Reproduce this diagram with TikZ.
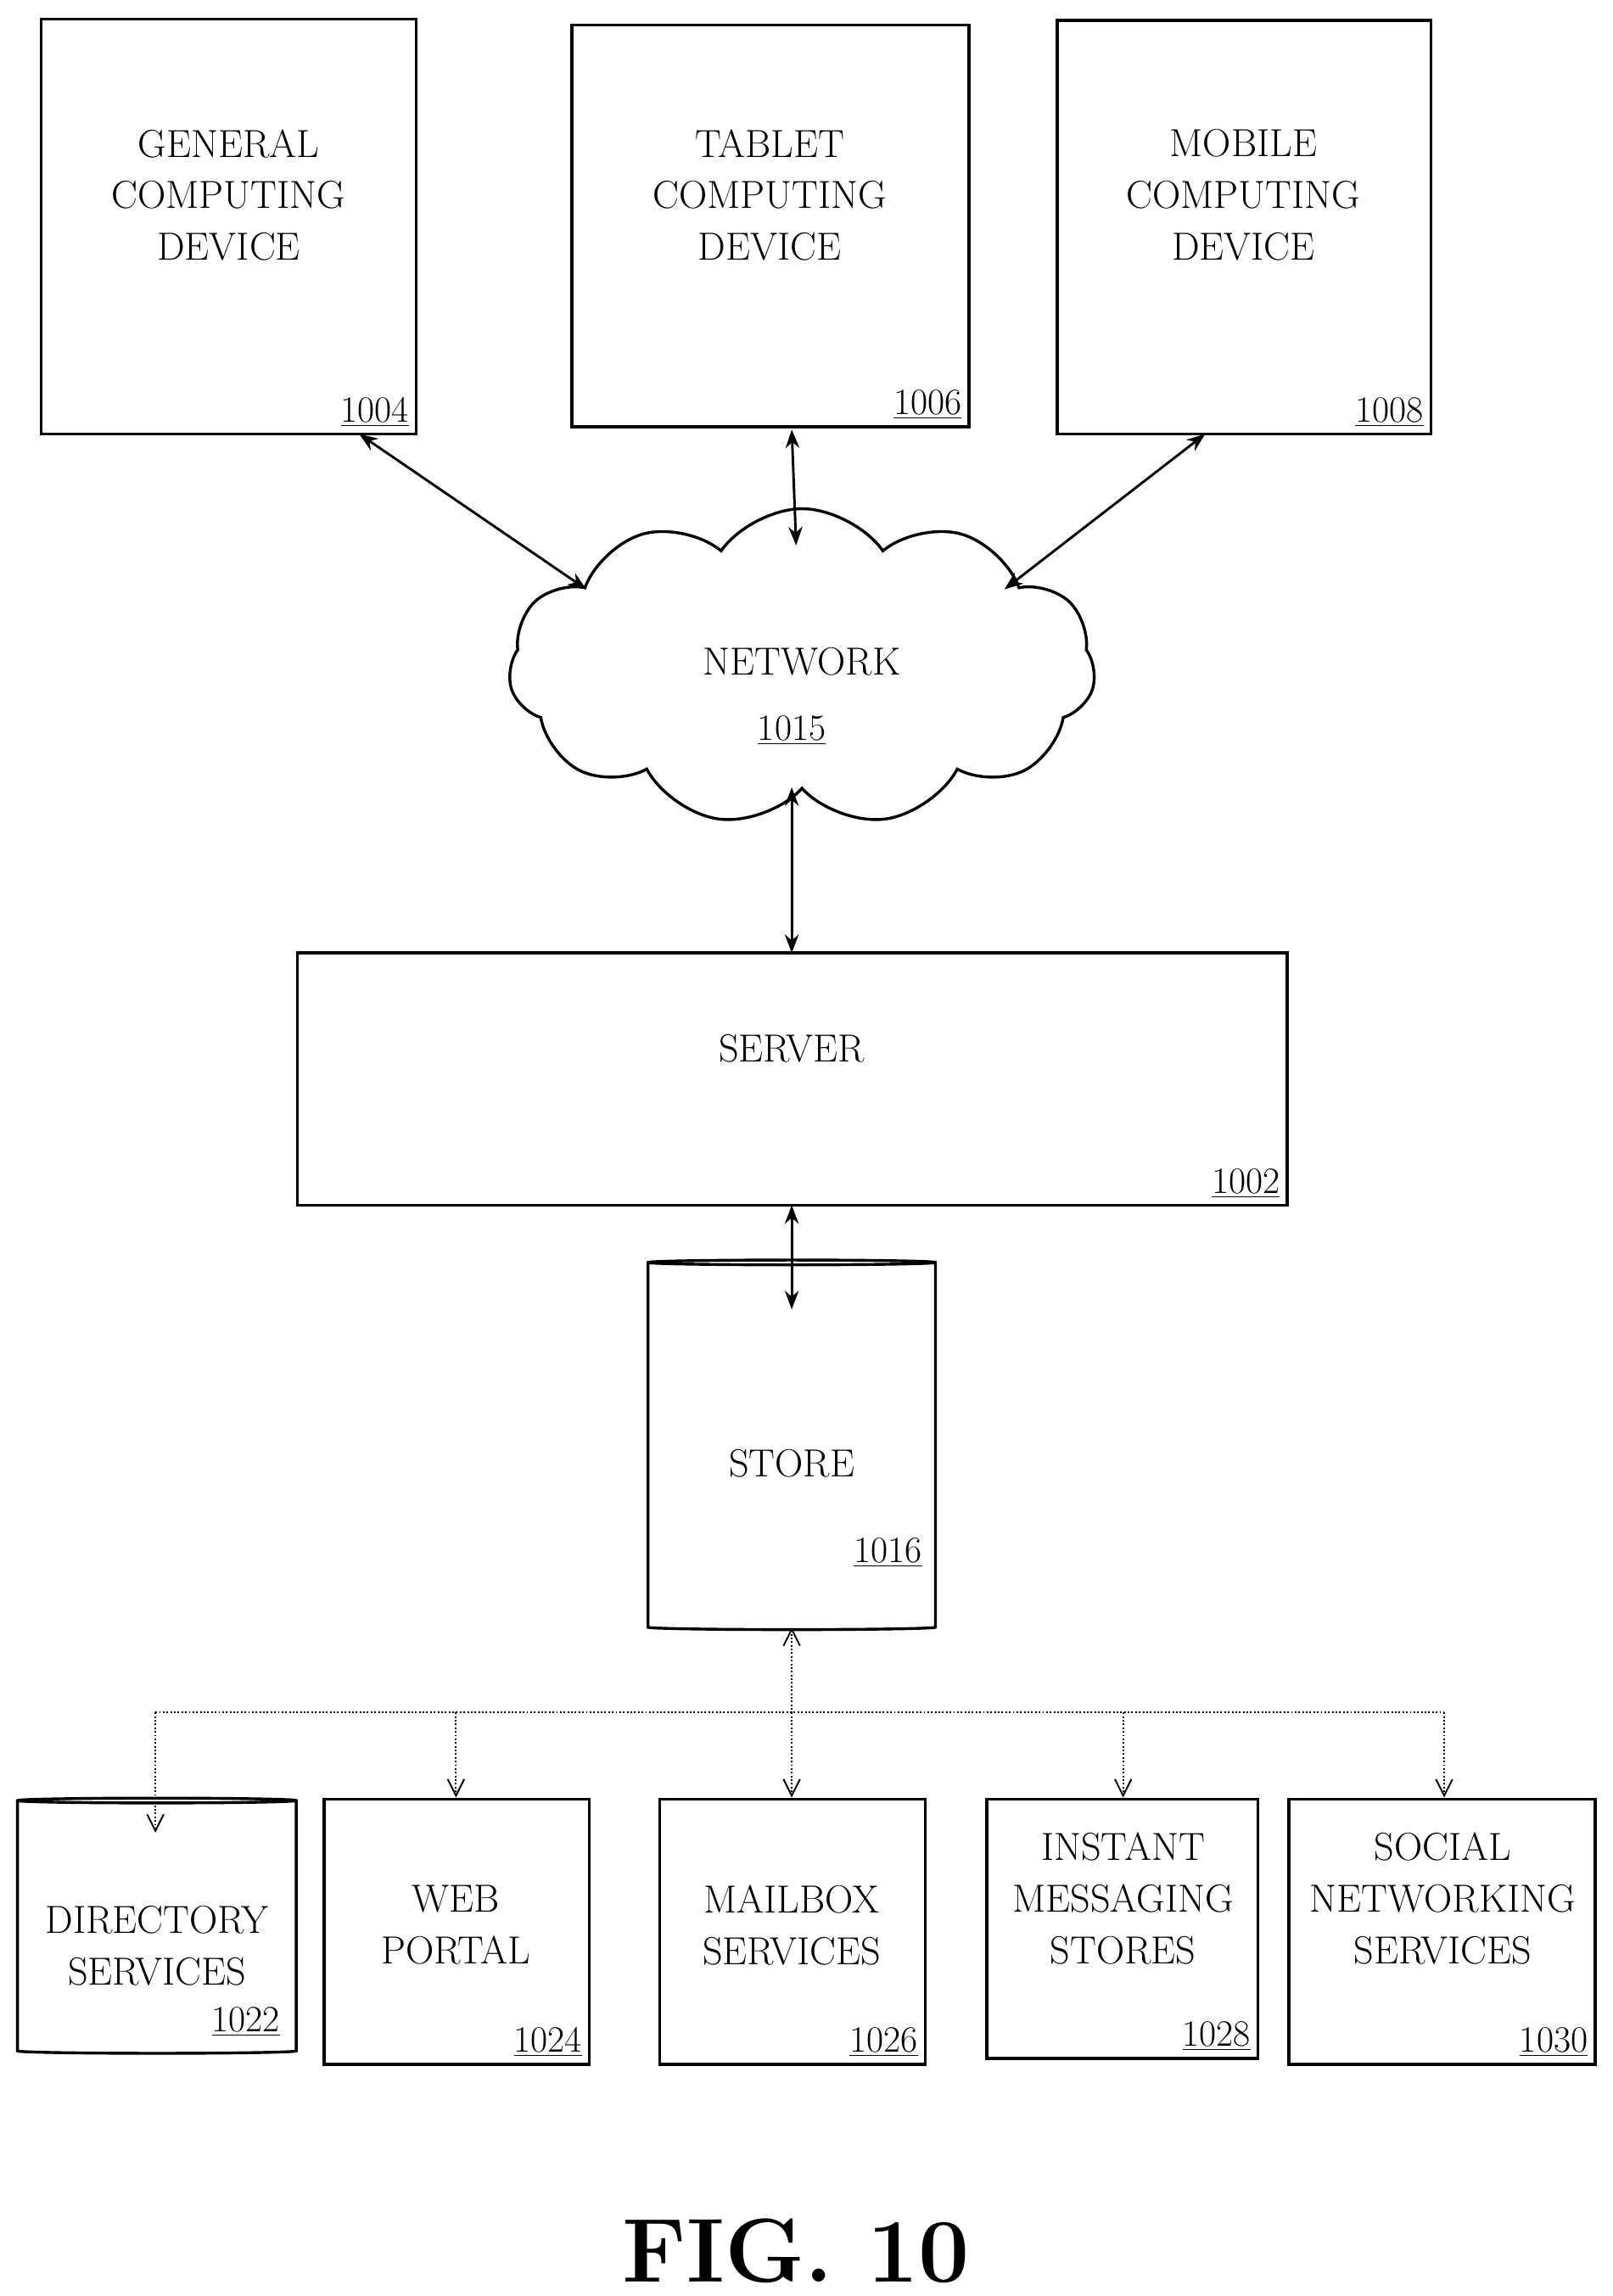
\documentclass[tikz,border=0pt]{standalone}
\usepackage{tikz}
\usetikzlibrary{shapes.geometric,shapes.symbols,arrows.meta}

\tikzset{
  box/.style={draw, line width=1.4pt, align=center, font=\fontsize{19}{25}\selectfont},
  ref/.style={font=\fontsize{18}{20}\selectfont, anchor=south east, inner sep=2pt},
  link/.style={line width=1.2pt, {Stealth[length=9pt]}-{Stealth[length=9pt]}},
  bus/.style={densely dotted, line width=0.8pt},
  tap/.style={bus, -{Straight Barb[open, length=8pt, width=8pt]}},
}

\begin{document}
\begin{tikzpicture}[x=0.025cm, y=-0.025cm]
	\useasboundingbox (0,0) rectangle (1100,1566);

	%% CLIENT DEVICES
	\draw[box] (28,13) rectangle (284,296);
	\node[box, draw=none](general) at (156,133){GENERAL\\COMPUTING\\DEVICE};
	\node[ref] at (282,294){\underline{1004}};
	\draw[box] (390,17) rectangle (661,291);
	\node[box, draw=none](tablet) at (525,133){TABLET\\COMPUTING\\DEVICE};
	\node[ref] at (659,289){\underline{1006}};
	\draw[box] (721,14) rectangle (976,296);
	\node[box, draw=none](mobile) at (848,133){MOBILE\\COMPUTING\\DEVICE};
	\node[ref] at (974,294){\underline{1008}};
	\coordinate (general_s) at (245,296);
	\coordinate (tablet_s) at (540,293);
	\coordinate (mobile_s) at (822,296);

	%% NETWORK
	\node[cloud, draw, line width=1.4pt, cloud puffs=11, cloud puff arc=110,
	  minimum width=10cm, minimum height=5.4cm, aspect=1.8](network) at (547,455){};
	\node[box, draw=none] at (547,451){NETWORK};
	\node[ref, anchor=center] at (540,498){\underline{1015}};
	\coordinate (net_l) at (400,402);
	\coordinate (net_t) at (543,372);
	\coordinate (net_r) at (685,402);
	\coordinate (net_b) at (540,537);

	\draw[link] (general_s) -- (net_l);
	\draw[link] (tablet_s) -- (net_t);
	\draw[link] (mobile_s) -- (net_r);

	%% SERVER AND STORE
	\draw[box] (203,650) rectangle (878,822);
	\node[box, draw=none](server) at (540,715){SERVER};
	\node[ref] at (876,820){\underline{1002}};
	\coordinate (server_t) at (540,650);
	\coordinate (server_b) at (540,822);
	\draw[link] (net_b) -- (server_t);

	\node[cylinder, draw, line width=1.4pt, shape border rotate=90, aspect=0.35,
	  minimum width=4.9cm, minimum height=6.3cm](store) at (540,987){};
	\node[box, draw=none] at (540,998){STORE};
	\node[ref] at (632,1072){\underline{1016}};
	\coordinate (store_t) at (540,893);
	\draw[link] (server_b) -- (store_t);

	%% SERVICES
	\node[cylinder, draw, line width=1.4pt, shape border rotate=90, aspect=0.35,
	  minimum width=4.75cm, minimum height=4.35cm](directory) at (107,1315){};
	\node[box, draw=none] at (107,1327){DIRECTORY\\SERVICES};
	\node[ref] at (194,1392){\underline{1022}};
	\draw[box] (221,1227) rectangle (402,1408);
	\node[box, draw=none](web) at (311,1313){WEB\\PORTAL};
	\node[ref] at (400,1406){\underline{1024}};
	\draw[box] (450,1227) rectangle (631,1408);
	\node[box, draw=none](mailbox) at (540,1313){MAILBOX\\SERVICES};
	\node[ref] at (629,1406){\underline{1026}};
	\draw[box] (673,1227) rectangle (858,1404);
	\node[box, draw=none](im) at (766,1295){INSTANT\\MESSAGING\\STORES};
	\node[ref] at (856,1402){\underline{1028}};
	\draw[box] (879,1227) rectangle (1088,1408);
	\node[box, draw=none](social) at (984,1295){SOCIAL\\NETWORKING\\SERVICES};
	\node[ref] at (1086,1406){\underline{1030}};

	\coordinate (store_b) at (540,1110);
	\coordinate (bus) at (540,1168);
	\draw[bus, {Straight Barb[open, length=8pt, width=8pt]}-] (store_b) -- (bus);
	\draw[bus] (106,1168) -- (985,1168);
	\draw[tap] (106,1168) -- (106,1250);
	\draw[tap] (311,1168) -- (311,1226);
	\draw[tap] (540,1168) -- (540,1226);
	\draw[tap] (766,1168) -- (766,1226);
	\draw[tap] (985,1168) -- (985,1226);

	\node[font=\bfseries\fontsize{44}{48}\selectfont](fig) at (543,1535){FIG. 10};
\end{tikzpicture}
\end{document}
